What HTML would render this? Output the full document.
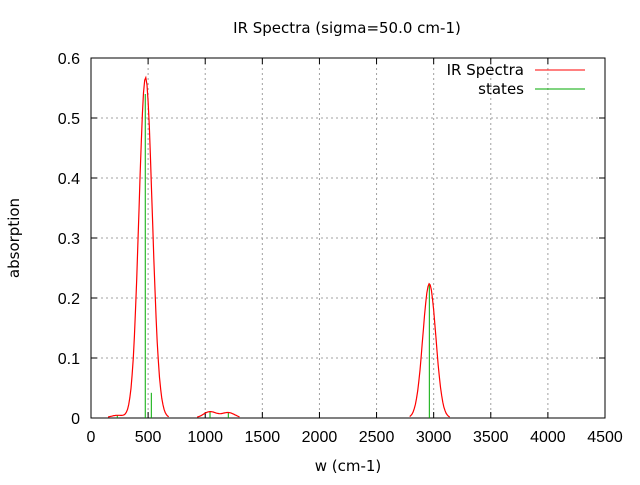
<!DOCTYPE html>
<html><head><meta charset="utf-8"><style>
body{margin:0;background:#fff}
svg text{font-family:"Liberation Sans",sans-serif;font-size:16px;fill:#000}
svg text.dj{font-family:"DejaVu Sans",sans-serif;font-size:15px}
</style></head><body>
<svg id="chart" width="640" height="480" xmlns="http://www.w3.org/2000/svg">
<rect width="640" height="480" fill="#fff"/>
<text class="dj" x="347" y="33" text-anchor="middle">IR Spectra (sigma=50.0 cm-1)</text>
<text class="dj" x="348" y="471" text-anchor="middle">w (cm-1)</text>
<text class="dj" transform="translate(19,238) rotate(-90)" text-anchor="middle">absorption</text>
<g id="grid"></g><g id="axes"></g><g id="series"></g>
<g>
<text class="dj" x="524" y="75" text-anchor="end">IR Spectra</text>
<line x1="535" y1="70" x2="585" y2="70" stroke="#f00" stroke-width="1"/>
<text class="dj" x="524" y="94" text-anchor="end">states</text>
<line x1="535" y1="89" x2="585" y2="89" stroke="#0a0" stroke-width="1"/>
</g>
</svg>
<script>
const xTicks=[0,500,1000,1500,2000,2500,3000,3500,4000,4500];
const yTicks=[0,0.1,0.2,0.3,0.4,0.5,0.6];
const yTickLabels=["0","0.1","0.2","0.3","0.4","0.5","0.6"];
const stateFreqs=[230,475,528,1042,1202,2962];
const stateIntens=[0.0045,0.54,0.042,0.0105,0.009,0.224];
const sigma=57;
const L=91,R=605,T=58,B=418;
const X=v=>L+(v-0)/(4500-0)*(R-L);
const Y=v=>B-(v-0)/(0.6-0)*(B-T);
const NS="http://www.w3.org/2000/svg";
function mk(tag,attrs,parent){const e=document.createElementNS(NS,tag);for(const k in attrs)e.setAttribute(k,attrs[k]);parent.appendChild(e);return e;}
const grid=document.getElementById('grid'),axes=document.getElementById('axes'),ser=document.getElementById('series');
xTicks.forEach((t,i)=>{
  if(i>0&&i<xTicks.length-1){const g=mk('line',{x1:X(t),x2:X(t),y1:T,y2:B,stroke:'#a0a0a0','stroke-dasharray':'2,3'},grid);
  
  }
  const tk=mk('path',{d:`M${X(t)},${B}v-6M${X(t)},${T}v6`,stroke:'#000'},axes);
  
  
  const lb=mk('text',{x:X(t),y:B+24,'text-anchor':'middle'},axes);lb.textContent=t;
  
  
});
yTicks.forEach((t,i)=>{
  if(i>0&&i<yTicks.length-1){const g=mk('line',{x1:L,x2:R,y1:Y(t),y2:Y(t),stroke:'#a0a0a0','stroke-dasharray':'2,3'},grid);
  
  }
  const tk=mk('path',{d:`M${L},${Y(t)}h6M${R},${Y(t)}h-6`,stroke:'#000'},axes);
  
  
  const lb=mk('text',{x:L-11,y:Y(t)+6,'text-anchor':'end'},axes);lb.textContent=yTickLabels[i];
  
  
});
const fr=mk('rect',{x:L,y:T,width:R-L,height:B-T,fill:'none',stroke:'#000'},axes);


stateFreqs.forEach((f,i)=>{
  const l=mk('line',{x1:X(f),x2:X(f),y1:B,y2:Y(stateIntens[i]),stroke:'#0a0','stroke-width':1},ser);
  
  
});
let pts=[];
for(let w=0;w<=4500;w+=10){
  let s=0;stateFreqs.forEach((f,i)=>{s+=stateIntens[i]*Math.exp(-((w-f)**2)/(2*sigma*sigma));});
  if(s>0.0015)pts.push(X(w).toFixed(1)+','+Y(s).toFixed(1));
  else{ if(pts.length>1){const p=mk('polyline',{points:pts.join(' '),fill:'none',stroke:'#f00','stroke-width':1.2},ser);
    
    } pts=[];}
}
</script>
</body></html>
